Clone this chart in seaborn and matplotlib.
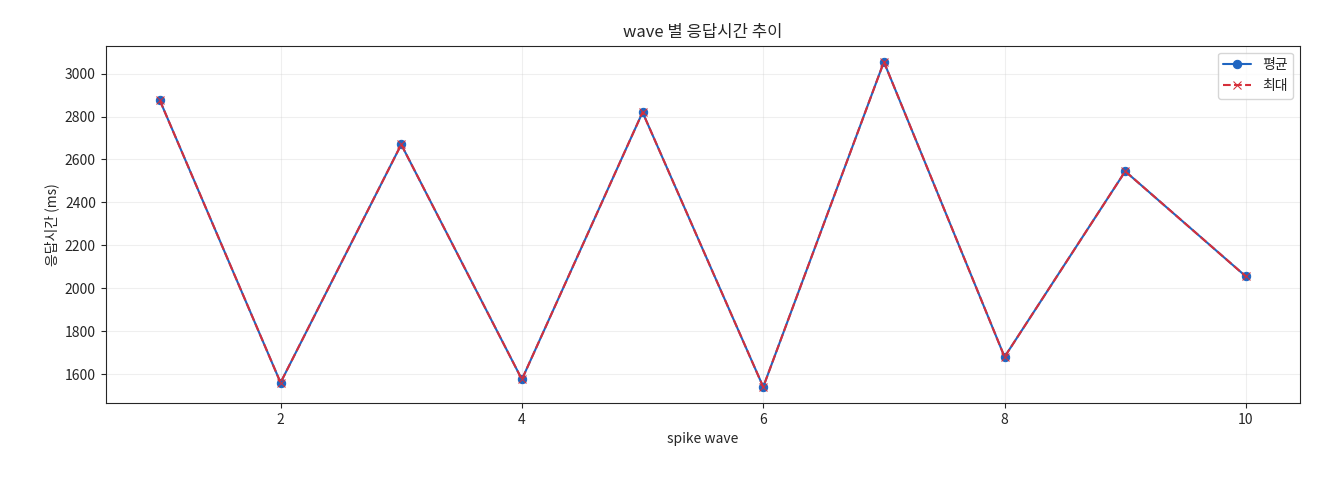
import matplotlib
matplotlib.use("Agg")
import matplotlib.pyplot as plt
import seaborn as sns
import pandas as pd

waves = [1, 2, 3, 4, 5, 6, 7, 8, 9, 10]
avg_ms = [2875, 1560, 2670, 1575, 2820, 1540, 3055, 1680, 2545, 2055]
max_ms = [2875, 1560, 2670, 1575, 2820, 1540, 3055, 1680, 2545, 2055]

sns.set_style("ticks")
plt.rcParams['font.family'] = ['Noto Sans CJK KR', 'DejaVu Sans']
plt.rcParams['axes.unicode_minus'] = False

df = pd.DataFrame({"wave": waves, "avg": avg_ms, "max": max_ms})
fig, ax = plt.subplots(figsize=(13.2, 4.8), dpi=100)
sns.lineplot(data=df, x="wave", y="avg", ax=ax, color="#1f65c1", marker="o",
             markersize=6, markeredgecolor="#1f65c1", label="평균")
sns.lineplot(data=df, x="wave", y="max", ax=ax, color="#d62f3a", marker="x",
             markersize=6, markeredgecolor="#d62f3a", label="최대")
ax.lines[1].set_linestyle((0, (3.7, 1.6)))
ax.grid(True, alpha=0.3)
ax.set_title("wave 별 응답시간 추이", fontsize=12)
ax.set_xlabel("spike wave", fontsize=10)
ax.set_ylabel("응답시간 (ms)", fontsize=10)
leg = ax.legend(loc="upper right", fontsize=10)
leg.get_lines()[1].set_linestyle((0, (3.7, 1.6)))
fig.subplots_adjust(left=0.08, right=0.985, top=0.905, bottom=0.16)
fig.savefig("out.png", dpi=100)
